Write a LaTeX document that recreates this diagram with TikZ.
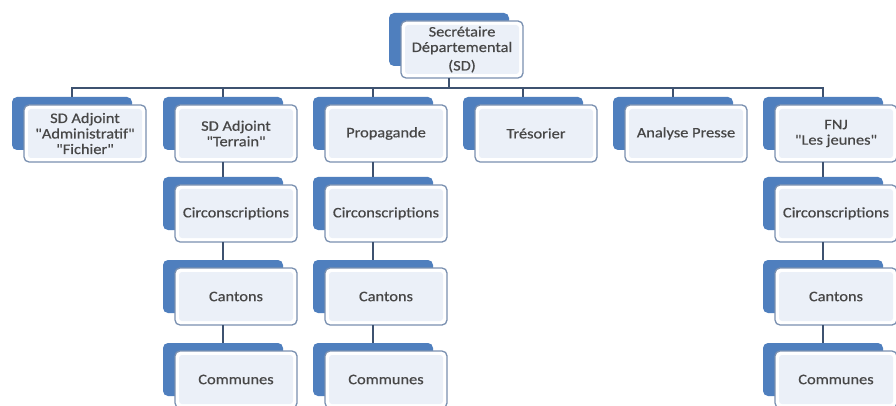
\documentclass[tikz,border=0pt]{standalone}
\usepackage{fontspec}
\newfontfamily\boxfont[FakeStretch=1.13,FakeBold=0.6]{Carlito}
\definecolor{backblue}{HTML}{4F7FBE}
\definecolor{frameblue}{HTML}{7A90B0}
\definecolor{innerc}{HTML}{EBF0F8}
\definecolor{linec}{HTML}{3E5270}
\definecolor{txt}{HTML}{474747}
\newcommand\orgbox[4]{%
  \node[backbox] (#1-bk) at (#2,#3) {};
  \node[frontbox] (#1) at ({#2+12},{#3+8}) {#4};}
\begin{document}
\begin{tikzpicture}[x=1pt,y=-1pt,
  backbox/.style={anchor=north west, fill=backblue, rounded corners=5pt,
    minimum width=120pt, minimum height=53pt, inner sep=0pt, outer sep=0pt},
  frontbox/.style={anchor=north west, fill=white, draw=frameblue, line width=1.3pt,
    rounded corners=5pt, minimum width=122pt, minimum height=57pt, inner sep=2pt,
    outer sep=0pt, align=center, text=txt,
    font=\boxfont\fontsize{14.5}{15.5}\selectfont,
    path picture={\fill[innerc,rounded corners=3pt]
      ([shift={(4pt,-4pt)}]path picture bounding box.north west) rectangle
      ([shift={(-4pt,4pt)}]path picture bounding box.south east);}},
  conn/.style={draw=linec, line width=1.8pt}]
\useasboundingbox (0,0) rectangle (896,406);
\fill[white] (0,0) rectangle (896,406);
% top
\orgbox{sd}{389}{13}{Secrétaire\\Départemental\\[3pt](SD)}
% level 1
\orgbox{c1}{12}{97}{SD Adjoint\\"Administratif"\\"Fichier"}
\orgbox{c2}{163}{97}{SD Adjoint\\"Terrain"}
\orgbox{c3}{313}{97}{Propagande}
\orgbox{c4}{463}{97}{Trésorier}
\orgbox{c5}{613}{97}{Analyse Presse}
\orgbox{c6}{763}{97}{FNJ\\"Les jeunes"}
% sub levels
\orgbox{c2a}{163}{177}{Circonscriptions}
\orgbox{c2b}{163}{260}{Cantons}
\orgbox{c2c}{163}{343}{Communes}
\orgbox{c3a}{313}{177}{Circonscriptions}
\orgbox{c3b}{313}{260}{Cantons}
\orgbox{c3c}{313}{343}{Communes}
\orgbox{c6a}{763}{177}{Circonscriptions}
\orgbox{c6b}{763}{260}{Cantons}
\orgbox{c6c}{763}{343}{Communes}
% connectors
\coordinate (busy) at (0,88);
\draw[conn] (sd-bk |- sd.south) -- (sd-bk |- busy);
\draw[conn] (c1-bk.north) -- (c1-bk |- busy) -- (c6-bk |- busy) -- (c6-bk.north);
\foreach \k in {2,...,5} {\draw[conn] (c\k-bk |- busy) -- (c\k-bk.north);}
\foreach \cc in {c2,c3,c6} {
  \draw[conn] (\cc-bk |- \cc.south) -- (\cc a-bk.north);
  \draw[conn] (\cc a-bk |- \cc a.south) -- (\cc b-bk.north);
  \draw[conn] (\cc b-bk |- \cc b.south) -- (\cc c-bk.north);
}
\end{tikzpicture}
\end{document}
